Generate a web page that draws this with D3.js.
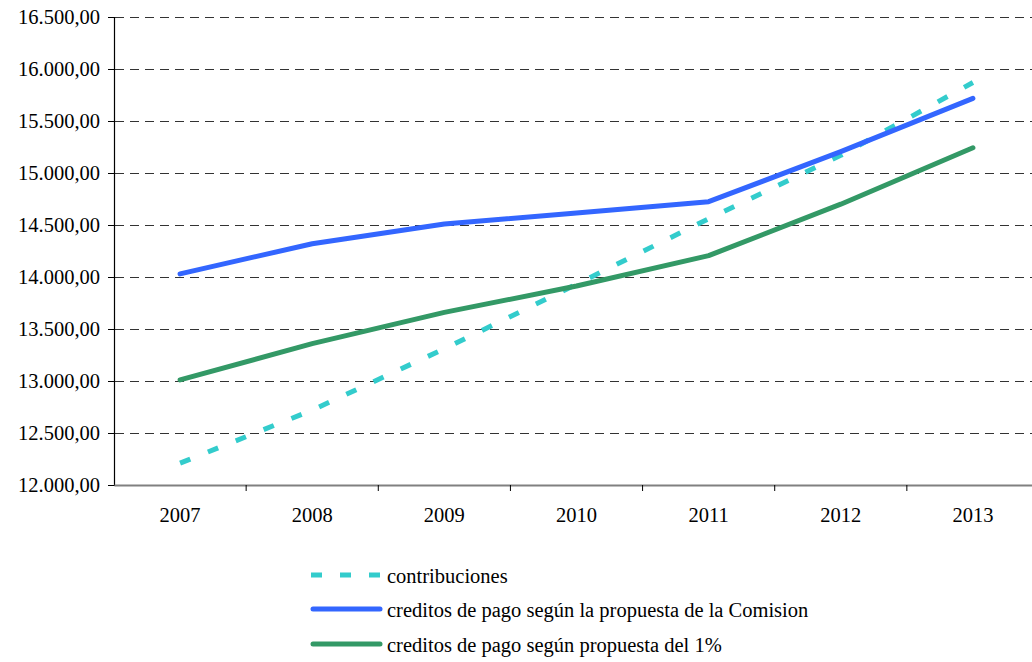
<!DOCTYPE html>
<html>
<head>
<meta charset="utf-8">
<script src="https://cdn.jsdelivr.net/npm/d3@7"></script>
<style>
  html, body { margin: 0; padding: 0; background: #ffffff; }
  svg { display: block; }
  text { font-family: "Liberation Serif", "Times New Roman", serif; fill: #000; }
</style>
</head>
<body>
<svg id="chart" width="1032" height="662"></svg>
<script>
// Years on the category axis
const years = ["2007", "2008", "2009", "2010", "2011", "2012", "2013"];

// Series values
const contribuciones = [12210, 12720, 13310, 13930, 14560, 15170, 15870];
const propuestaComision = [14030, 14320, 14510, 14615, 14724, 15205, 15718];
const propuesta1 = [13010, 13360, 13660, 13913, 14205, 14700, 15243];

// Value axis ticks
const yTicks = [12000, 12500, 13000, 13500, 14000, 14500, 15000, 15500, 16000, 16500];

const seriesNames = [
  "contribuciones",
  "creditos de pago según la propuesta de la Comision",
  "creditos de pago según propuesta del 1%"
];

const series = [
  { name: seriesNames[0], values: contribuciones, color: "#33CCCC", dash: "11,19", legendDash: "11,18", cap: "butt" },
  { name: seriesNames[1], values: propuestaComision, color: "#3366FF", dash: null, legendDash: null, cap: "round" },
  { name: seriesNames[2], values: propuesta1, color: "#339966", dash: null, legendDash: null, cap: "round" }
];

const svg = d3.select("#chart");

const plotLeft = 114, plotTop = 17, plotBottom = 485, plotRight = 1039;
const fontSize = "20.5px";
const serif = '"Liberation Serif", "Times New Roman", serif';

const esLocale = d3.formatLocale({ decimal: ",", thousands: ".", grouping: [3], currency: ["", "€"] });
const fmt = esLocale.format(",.2f");

const x = d3.scaleBand().domain(years).range([plotLeft, plotRight]).padding(0);
const y = d3.scaleLinear().domain([12000, 16500]).range([plotBottom, plotTop]);

// Dashed horizontal gridlines
svg.append("g")
  .attr("shape-rendering", "crispEdges")
  .selectAll("line")
  .data(yTicks.filter(d => d !== 12000))
  .join("line")
  .attr("x1", plotLeft + 1)
  .attr("x2", plotRight)
  .attr("y1", d => y(d) + 0.5)
  .attr("y2", d => y(d) + 0.5)
  .attr("stroke", "#333333")
  .attr("stroke-width", 1)
  .attr("stroke-dasharray", "9,6");

// Value axis
const yAxis = d3.axisLeft(y).tickValues(yTicks).tickFormat(fmt).tickSize(6).tickPadding(8);
const gy = svg.append("g").attr("transform", `translate(${plotLeft},0)`).call(yAxis);
gy.attr("font-family", serif).attr("font-size", fontSize);
gy.select(".domain").attr("stroke", "#000").attr("stroke-width", 1.2);
gy.selectAll(".tick line").attr("stroke", "#000");
gy.selectAll(".tick text").attr("fill", "#000");

// Category axis: ticks sit on band boundaries
const xAxis = d3.axisBottom(x).tickSize(0).tickPadding(22);
const gx = svg.append("g").attr("transform", `translate(0,${plotBottom})`).call(xAxis);
gx.attr("font-family", serif).attr("font-size", fontSize);
gx.select(".domain").attr("stroke", "#808080").attr("stroke-width", 2);
gx.selectAll(".tick text").attr("fill", "#000");

svg.append("g")
  .selectAll("line")
  .data(years.slice(1))
  .join("line")
  .attr("x1", d => x(d))
  .attr("x2", d => x(d))
  .attr("y1", plotBottom)
  .attr("y2", plotBottom + 6)
  .attr("stroke", "#000")
  .attr("stroke-width", 1);

// Lines
const line = d3.line()
  .x((d, i) => x(years[i]) + x.bandwidth() / 2)
  .y(d => y(d));

svg.append("g")
  .selectAll("path")
  .data(series)
  .join("path")
  .attr("d", s => line(s.values))
  .attr("fill", "none")
  .attr("stroke", s => s.color)
  .attr("stroke-width", 5)
  .attr("stroke-linejoin", "round")
  .attr("stroke-linecap", s => s.cap)
  .attr("stroke-dasharray", s => s.dash);

// Legend
const legend = svg.append("g");
const legendRows = [576, 610, 645];
const lg = legend.selectAll("g")
  .data(series)
  .join("g")
  .attr("transform", (s, i) => `translate(0,${legendRows[i]})`);

lg.append("line")
  .attr("x1", s => s.cap === "round" ? 313 : 311)
  .attr("x2", s => s.cap === "round" ? 380 : 382)
  .attr("y1", -1)
  .attr("y2", -1)
  .attr("stroke", s => s.color)
  .attr("stroke-width", 5)
  .attr("stroke-linecap", s => s.cap)
  .attr("stroke-dasharray", s => s.legendDash);

lg.append("text")
  .attr("x", 387)
  .attr("y", 0)
  .attr("dy", "0.35em")
  .style("font-family", serif)
  .style("font-size", fontSize)
  .text(s => s.name);
</script>
</body>
</html>
